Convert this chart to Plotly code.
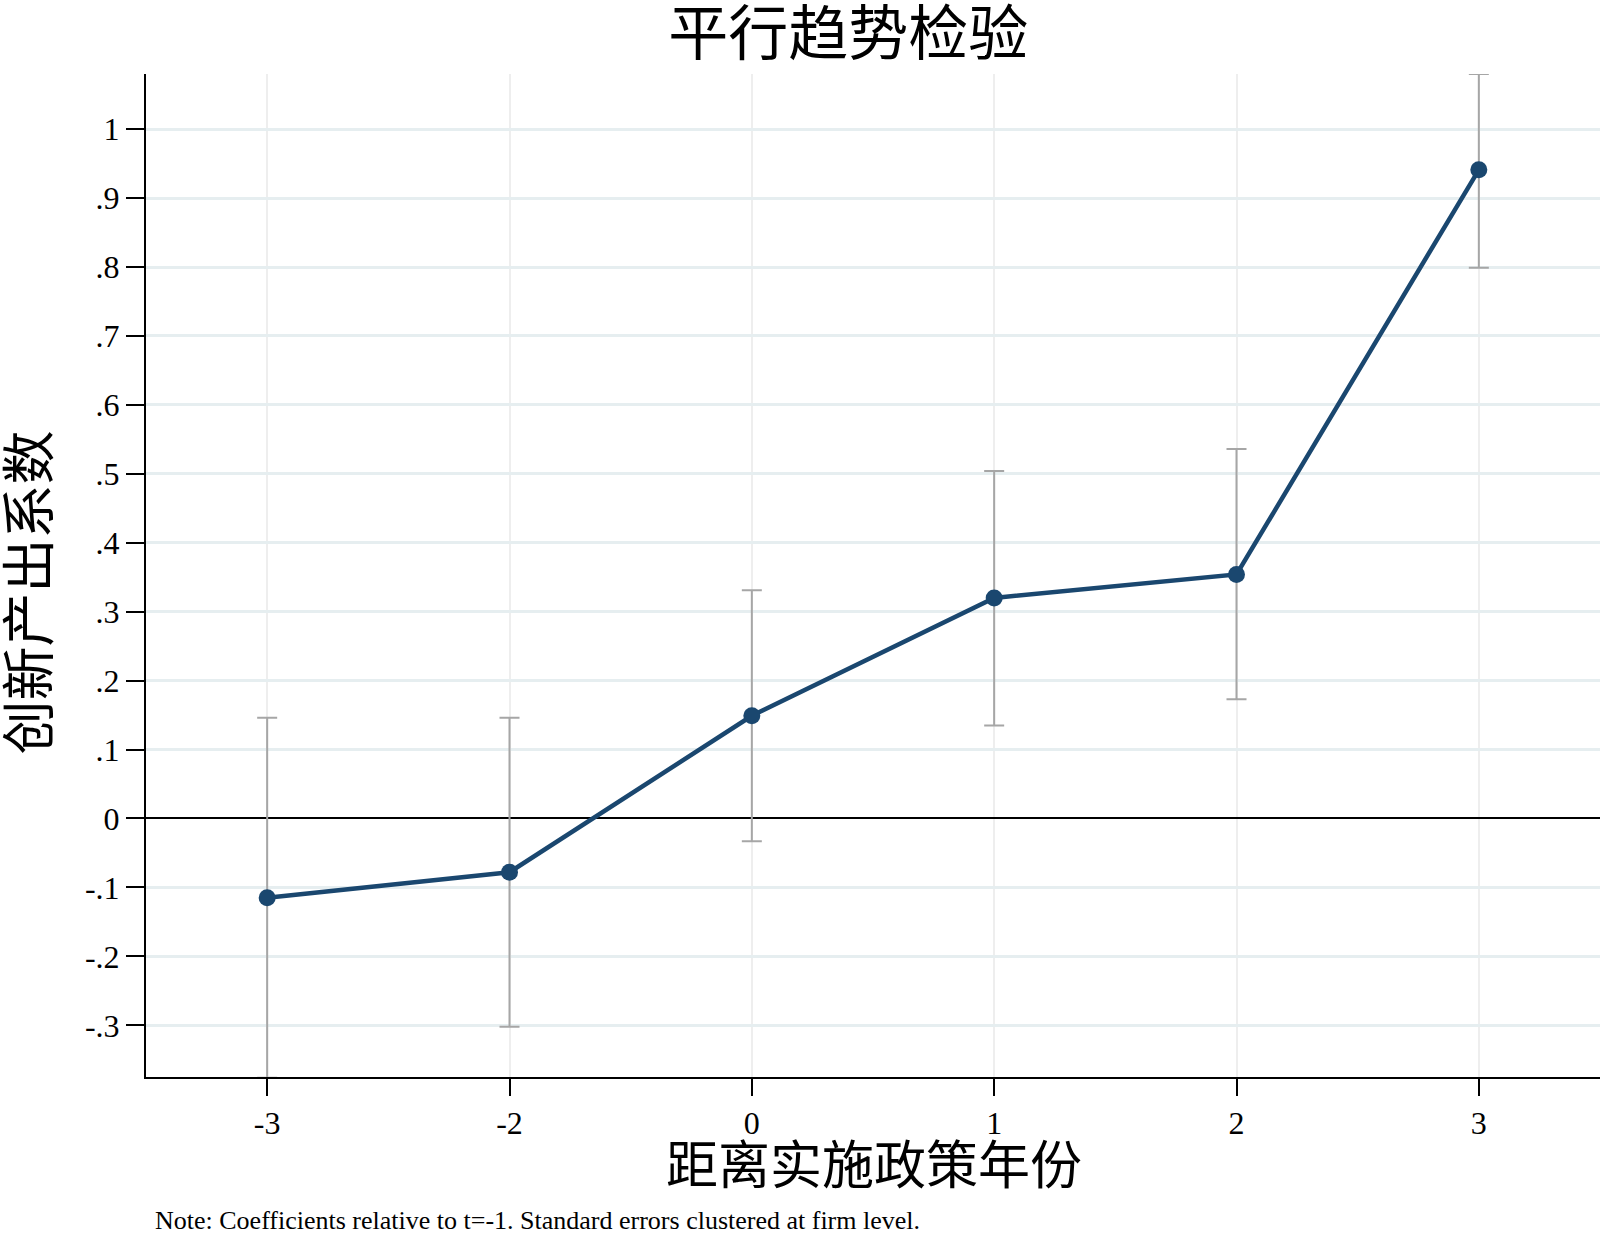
import plotly.graph_objects as go

# Data
periods = ["-3", "-2", "0", "1", "2", "3"]
coef = [-0.115, -0.078, 0.149, 0.320, 0.354, 0.941]
ci_low = [-0.376, -0.302, -0.033, 0.135, 0.173, 0.799]
ci_high = [0.146, 0.146, 0.331, 0.504, 0.536, 1.080]
y_tickvals = [-0.3, -0.2, -0.1, 0, 0.1, 0.2, 0.3, 0.4, 0.5, 0.6, 0.7, 0.8, 0.9, 1.0]
y_ticktext = ["-.3", "-.2", "-.1", "0", ".1", ".2", ".3", ".4", ".5", ".6", ".7", ".8", ".9", "1"]

xpos = list(range(len(periods)))
err_plus = [h - c for h, c in zip(ci_high, coef)]
err_minus = [c - l for c, l in zip(coef, ci_low)]

FONT = "Liberation Serif, Times New Roman, Noto Sans CJK SC"
NAVY = "#1a476f"

fig = go.Figure()
fig.add_trace(go.Scatter(
    x=xpos, y=coef, mode="lines+markers",
    line=dict(color=NAVY, width=4.5),
    marker=dict(color=NAVY, size=17),
    error_y=dict(type="data", symmetric=False, array=err_plus, arrayminus=err_minus,
                 color="#a6a6a6", thickness=2, width=10),
    showlegend=False,
))

fig.update_layout(
    width=1600, height=1239,
    paper_bgcolor="white", plot_bgcolor="white",
    margin=dict(l=146, r=0, t=74, b=162),
    font=dict(family=FONT, color="black", size=32),
    title=dict(text="平行趋势检验", x=0.483, xref="paper", xanchor="center",
               y=1 - 34 / 1239, yref="container", yanchor="middle",
               font=dict(family=FONT, size=60, color="black")),
    xaxis=dict(
        range=[-0.5, 5.5], tickvals=xpos, ticktext=periods,
        showgrid=True, gridcolor="#eeeeee", gridwidth=2,
        showline=True, linecolor="black", linewidth=2,
        ticks="outside", ticklen=17, tickwidth=2, tickcolor="black",
        tickfont=dict(size=32, family=FONT), zeroline=False,
    ),
    yaxis=dict(
        range=[-0.375, 1.08], tickvals=y_tickvals, ticktext=y_ticktext,
        showgrid=True, gridcolor="#e6eef0", gridwidth=3,
        showline=True, linecolor="black", linewidth=2,
        ticks="outside", ticklen=18, tickwidth=2, tickcolor="black",
        tickfont=dict(size=32, family=FONT),
        zeroline=True, zerolinecolor="black", zerolinewidth=2,
    ),
    annotations=[
        dict(text="创新产出系数", xref="paper", yref="paper", x=-0.0791, y=0.483,
             textangle=-90, showarrow=False, xanchor="center", yanchor="middle",
             font=dict(family=FONT, size=54, color="black")),
        dict(text="距离实施政策年份", xref="paper", yref="paper", x=0.5007, y=-0.0895,
             showarrow=False, xanchor="center", yanchor="middle",
             font=dict(family=FONT, size=52, color="black")),
        dict(text="Note: Coefficients relative to t=-1. Standard errors clustered at firm level.",
             xref="paper", yref="paper", x=0.0048, y=-0.1435,
             showarrow=False, xanchor="left", yanchor="middle",
             font=dict(family=FONT, size=26, color="black")),
    ],
)

fig.write_html("out.html", config={"displayModeBar": False},
               post_script="document.body.style.margin='0';document.body.style.overflow='hidden';")
